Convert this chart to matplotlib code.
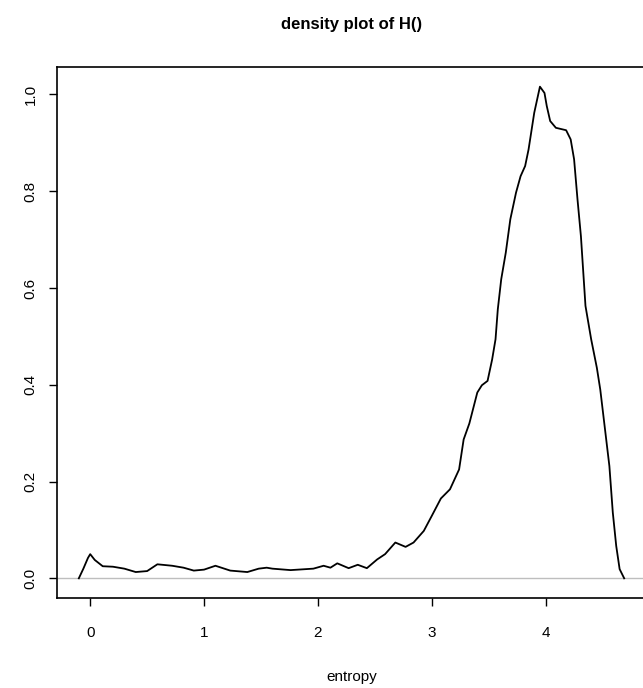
import numpy as np
import matplotlib.pyplot as plt

plt.rcParams['font.family'] = ['Liberation Sans', 'DejaVu Sans']

# curva de densidad
entropy = [-0.10, -0.06, -0.02, 0.00, 0.04, 0.11, 0.20, 0.30, 0.40, 0.50, 0.59,
           0.72, 0.82, 0.91, 1.00, 1.10, 1.23, 1.38, 1.48, 1.55, 1.60, 1.76,
           1.96, 2.05, 2.11, 2.17, 2.27, 2.35, 2.43, 2.52, 2.59, 2.68, 2.77,
           2.84, 2.93, 3.00, 3.08, 3.16, 3.24, 3.28, 3.33, 3.40, 3.44, 3.49,
           3.53, 3.56, 3.58, 3.61, 3.65, 3.69, 3.74, 3.78, 3.82, 3.85, 3.90,
           3.95, 3.99, 4.01, 4.04, 4.09, 4.18, 4.22, 4.25, 4.28, 4.31, 4.35,
           4.40, 4.45, 4.48, 4.56, 4.59, 4.62, 4.65, 4.69]
density = [0.000, 0.020, 0.042, 0.050, 0.038, 0.025, 0.024, 0.020, 0.013, 0.015, 0.029,
           0.026, 0.022, 0.016, 0.018, 0.026, 0.016, 0.013, 0.020, 0.022, 0.020, 0.017,
           0.020, 0.026, 0.022, 0.031, 0.021, 0.028, 0.021, 0.039, 0.050, 0.074, 0.065,
           0.074, 0.098, 0.129, 0.165, 0.184, 0.225, 0.287, 0.320, 0.384, 0.399, 0.408,
           0.452, 0.494, 0.556, 0.618, 0.673, 0.742, 0.797, 0.831, 0.852, 0.886, 0.962,
           1.016, 1.003, 0.976, 0.945, 0.931, 0.926, 0.907, 0.866, 0.783, 0.707, 0.563,
           0.494, 0.435, 0.390, 0.232, 0.136, 0.067, 0.019, 0.000]

xticks = [0, 1, 2, 3, 4]
yticks = [0.0, 0.2, 0.4, 0.6, 0.8, 1.0]

fig = plt.figure(figsize=(6.43, 6.88), dpi=100)
ax = fig.add_axes([57 / 643, 90 / 688, 589 / 643, 531 / 688])

ax.axhline(0, color='#bebebe', lw=1)
ax.plot(entropy, density, color='black', lw=1.3)

xr = max(entropy) - min(entropy)
ax.set_xlim(min(entropy) - 0.04 * xr, max(entropy) + 0.04 * xr)
yr = max(density)
ax.set_ylim(-0.04 * yr, 1.04 * yr)

ax.set_xticks(xticks)
ax.set_xticklabels([str(t) for t in xticks])
ax.set_yticks(yticks)
ax.set_yticklabels([f'{t:.1f}' for t in yticks], rotation=90, va='center')
ax.tick_params(direction='out', length=6, width=1, labelsize=11)
ax.tick_params(axis='x', pad=14)
ax.tick_params(axis='y', pad=8)

for s in ax.spines.values():
    s.set_linewidth(1.2)
    s.set_color('black')

ax.set_xlabel('entropy', fontsize=11, labelpad=22)
fig.text((57 + 646) / 2 / 643, 1 - 25 / 688, 'density plot of H()',
         ha='center', va='center', fontsize=12, fontweight='bold')

fig.savefig('out.png', dpi=100)
